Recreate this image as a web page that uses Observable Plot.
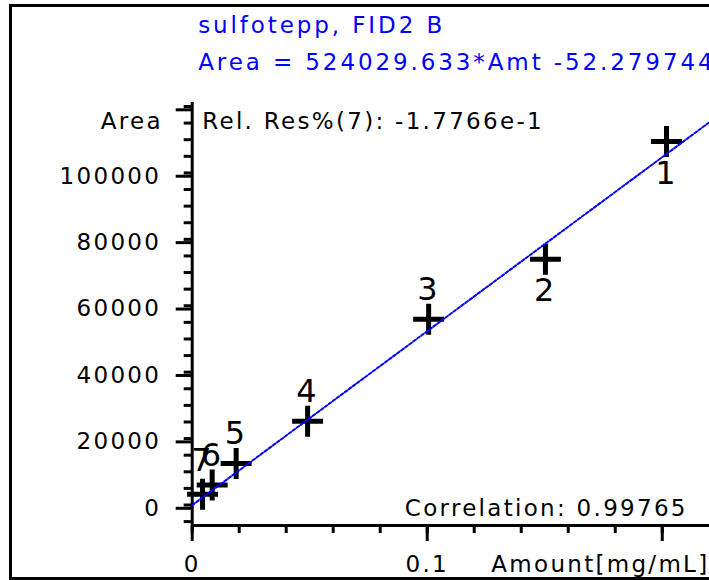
<!DOCTYPE html>
<html><head><meta charset="utf-8">
<script src="https://cdn.jsdelivr.net/npm/d3@7"></script>
<script src="https://cdn.jsdelivr.net/npm/@observablehq/plot@0.6"></script>
<style>
html,body{margin:0;padding:0;background:#fff;}
#wrap{position:relative;width:709px;height:580px;overflow:hidden;background:#fff;}
#chart{position:absolute;left:0;top:0;}
#border{position:absolute;left:9px;top:4px;width:800px;height:576px;border:3px solid #000;box-sizing:border-box;}
#chart svg text{letter-spacing:2.3px;}
#chart svg [fill="#0000ff"] text, #chart svg text[fill="#0000ff"]{letter-spacing:2.9px;}
</style></head><body>
<div id="wrap"><div id="chart"></div><div id="border"></div></div>
<script>
// ---- data ----
const levels  = ["1", "2", "3", "4", "5", "6", "7"];
const amounts = [0.2018, 0.1503, 0.1006, 0.0491, 0.0187, 0.0085, 0.0044];
const areas   = [109460, 74020, 55920, 25200, 12500, 6020, 3220];
const slope = 524029.633;
const intercept = -52.279744;
const titleLines = ["sulfotepp, FID2 B", "Area = 524029.633*Amt -52.279744"];
const relResText = "Rel. Res%(7): -1.7766e-1";
const correlationText = "Correlation: 0.99765";
const xLabel = "Amount[mg/mL]";
const yLabel = "Area";
const xDomain = [0, 0.2201];
const yDomain = [-6173, 121206];
const xMajorTicks = [0, 0.1, 0.2];
const xTickLabels = [0, 0.1];
const xMinorTicks = d3.range(0, 0.21, 0.02);
const yMajorTicks = [0, 20000, 40000, 60000, 80000, 100000, 120000];
const yTickLabels = [0, 20000, 40000, 60000, 80000, 100000];
const yMinorTicks = d3.range(-5000, 120001, 5000);

const X = (d, i) => amounts[i];
const Y = (d, i) => areas[i];
const F = "DejaVu Sans";

const chart = Plot.plot({
  width: 709,
  height: 580,
  marginLeft: 191.7,
  marginRight: 0,
  marginTop: 102,
  marginBottom: 55,
  style: {fontFamily: F, background: "transparent", color: "black"},
  x: {domain: xDomain, label: null},
  y: {domain: yDomain, label: null},
  marks: [
    // axis lines
    Plot.ruleX([0], {strokeWidth: 3}),
    Plot.ruleY([yDomain[0]], {strokeWidth: 3}),
    // y ticks
    Plot.axisY(yMinorTicks, {anchor: "left", tickSize: 8, strokeWidth: 3, tickFormat: () => "", label: null}),
    Plot.axisY(yMajorTicks, {anchor: "left", tickSize: 16, tickPadding: 15, strokeWidth: 3, fontSize: 23, dy: 3.3,
      tickFormat: d => yTickLabels.includes(d) ? String(d) : "", label: null}),
    // x ticks
    Plot.axisX(xMinorTicks, {anchor: "bottom", tickSize: 8, strokeWidth: 3, tickFormat: () => "", label: null}),
    Plot.axisX(xMajorTicks, {anchor: "bottom", tickSize: 16, tickPadding: 14.4, strokeWidth: 3, fontSize: 23,
      tickFormat: d => xTickLabels.includes(d) ? String(d) : "", label: null}),
    // calibration points
    Plot.dot(levels, {x: X, y: Y, symbol: "plus", r: 10, stroke: "black", strokeWidth: 5}),
    // regression line from the displayed equation
    Plot.line(xDomain, {x: d => d, y: d => slope * d + intercept, stroke: "#0000ff", strokeWidth: 2, strokeDasharray: "3,2"}),
    // point labels
    Plot.text(levels, {x: X, y: Y, text: d => d, filter: (d, i) => i < 2, dy: 42, lineAnchor: "bottom", fontSize: 32}),
    Plot.text(levels, {x: X, y: Y, text: d => d, filter: (d, i) => i >= 2 && i < 6, dy: -19, lineAnchor: "bottom", fontSize: 32}),
    Plot.text(levels, {x: X, y: Y, text: d => d, filter: (d, i) => i === 6, dy: -23, lineAnchor: "bottom", fontSize: 32}),
    // titles
    Plot.text([titleLines[0]], {frameAnchor: "top-left", text: d => d, dx: 6, dy: -70, lineAnchor: "bottom", textAnchor: "start", fill: "#0000ff", fontSize: 23}),
    Plot.text([titleLines[1]], {frameAnchor: "top-left", text: d => d, dx: 6, dy: -33, lineAnchor: "bottom", textAnchor: "start", fill: "#0000ff", fontSize: 23}),
    // annotations
    Plot.text([relResText], {frameAnchor: "top-left", text: d => d, dx: 10, dy: 26, lineAnchor: "bottom", textAnchor: "start", fontSize: 23}),
    Plot.text([yLabel], {frameAnchor: "top-left", text: d => d, dx: -29.4, dy: 26, lineAnchor: "bottom", textAnchor: "end", fontSize: 23}),
    Plot.text([correlationText], {frameAnchor: "bottom-right", text: d => d, dx: -21.7, dy: -10, lineAnchor: "bottom", textAnchor: "end", fontSize: 23}),
    Plot.text([xLabel], {frameAnchor: "bottom-right", text: d => d, dx: 0, dy: 46.7, lineAnchor: "bottom", textAnchor: "end", fontSize: 23})
  ]
});
document.getElementById("chart").append(chart);
</script>
</body></html>
